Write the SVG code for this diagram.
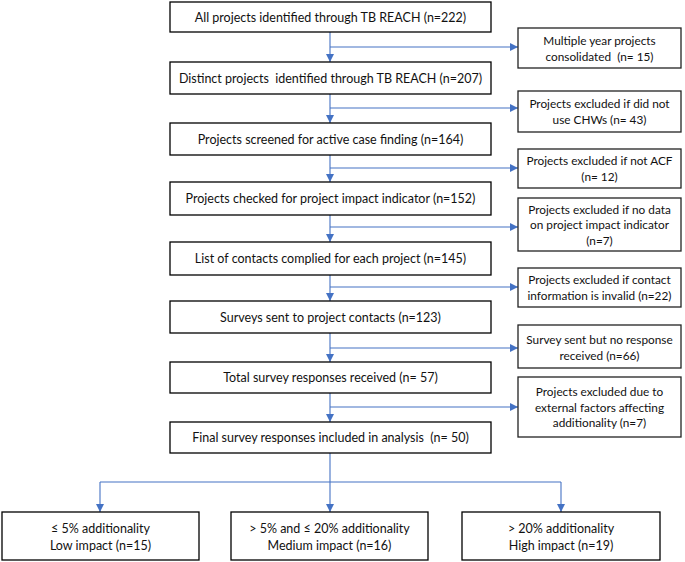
<svg xmlns="http://www.w3.org/2000/svg" width="685" height="562" viewBox="0 0 685 562">
<style>
.box{fill:#fff;stroke:#000;stroke-width:1.3}
.sbox{fill:#fff;stroke:#222;stroke-width:1.3}
.t{font-family:Lato,"Liberation Sans",sans-serif;font-size:12.5px;fill:#111;text-anchor:middle;dominant-baseline:central;white-space:pre}
.s{font-size:11.8px}
.c{fill:none;stroke:#4472C4;stroke-width:1.1}
</style>
<defs>
<marker id="ah" viewBox="0 0 8 8" refX="8" refY="4" markerWidth="8" markerHeight="8" markerUnits="userSpaceOnUse" orient="auto">
<path d="M0,0 L8,4 L0,8 Z" fill="#4472C4"/>
</marker>
</defs>
<g id="connectors">
<path class="c" d="M330,32 V62" marker-end="url(#ah)"/>
<path class="c" d="M330,47 H518" marker-end="url(#ah)"/>
<path class="c" d="M330,94 V123" marker-end="url(#ah)"/>
<path class="c" d="M330,108 H518" marker-end="url(#ah)"/>
<path class="c" d="M330,155 V182" marker-end="url(#ah)"/>
<path class="c" d="M330,168 H518" marker-end="url(#ah)"/>
<path class="c" d="M330,215 V242" marker-end="url(#ah)"/>
<path class="c" d="M330,227 H518" marker-end="url(#ah)"/>
<path class="c" d="M330,275 V301" marker-end="url(#ah)"/>
<path class="c" d="M330,287 H518" marker-end="url(#ah)"/>
<path class="c" d="M330,333 V362" marker-end="url(#ah)"/>
<path class="c" d="M330,348 H518" marker-end="url(#ah)"/>
<path class="c" d="M330,393 V422" marker-end="url(#ah)"/>
<path class="c" d="M330,407 H518" marker-end="url(#ah)"/>
<path class="c" d="M330,453 V512" marker-end="url(#ah)"/>
<path class="c" d="M100,482 H561"/>
<path class="c" d="M100,482 V512" marker-end="url(#ah)"/>
<path class="c" d="M561,482 V512" marker-end="url(#ah)"/>
</g>
<g id="n1"><rect class="box" x="170" y="2" width="321" height="30"/><text class="t" x="330.5" y="17">All projects identified through TB REACH (n=222)</text></g>
<g id="n2"><rect class="box" x="170" y="62" width="321" height="32"/><text class="t" x="330.5" y="78">Distinct projects  identified through TB REACH (n=207)</text></g>
<g id="n3"><rect class="box" x="170" y="123" width="321" height="32"/><text class="t" x="330.5" y="139">Projects screened for active case finding (n=164)</text></g>
<g id="n4"><rect class="box" x="170" y="182" width="321" height="33"/><text class="t" x="330.5" y="198.5">Projects checked for project impact indicator (n=152)</text></g>
<g id="n5"><rect class="box" x="170" y="242" width="321" height="33"/><text class="t" x="330.5" y="258.5">List of contacts complied for each project (n=145)</text></g>
<g id="n6"><rect class="box" x="170" y="301" width="321" height="32"/><text class="t" x="330.5" y="317">Surveys sent to project contacts (n=123)</text></g>
<g id="n7"><rect class="box" x="170" y="362" width="321" height="31"/><text class="t" x="330.5" y="377.5">Total survey responses received (n= 57)</text></g>
<g id="n8"><rect class="box" x="170" y="422" width="321" height="31"/><text class="t" x="330.5" y="437.5">Final survey responses included in analysis  (n= 50)</text></g>
<g id="s1"><rect class="sbox" x="518" y="28" width="163" height="40"/><text class="t s" x="599.5" y="40">Multiple year projects</text><text class="t s" x="599.5" y="56">consolidated  (n= 15)</text></g>
<g id="s2"><rect class="sbox" x="518" y="91" width="163" height="41"/><text class="t s" x="599.5" y="103.5">Projects excluded if did not</text><text class="t s" x="599.5" y="119.5">use CHWs (n= 43)</text></g>
<g id="s3"><rect class="sbox" x="518" y="149" width="163" height="39"/><text class="t s" x="599.5" y="160.5">Projects excluded if not ACF</text><text class="t s" x="599.5" y="176.5">(n= 12)</text></g>
<g id="s4"><rect class="sbox" x="518" y="198" width="163" height="53"/><text class="t s" x="599.5" y="209">Projects excluded if no data</text><text class="t s" x="599.5" y="224.5">on project impact indicator</text><text class="t s" x="599.5" y="240">(n=7)</text></g>
<g id="s5"><rect class="sbox" x="518" y="268" width="163" height="39"/><text class="t s" x="599.5" y="279.5">Projects excluded if contact</text><text class="t s" x="599.5" y="295.5">information is invalid (n=22)</text></g>
<g id="s6"><rect class="sbox" x="518" y="325" width="163" height="43"/><text class="t s" x="599.5" y="339">Survey sent but no response</text><text class="t s" x="599.5" y="355">received (n=66)</text></g>
<g id="s7"><rect class="sbox" x="518" y="377" width="163" height="60"/><text class="t s" x="599.5" y="391.5">Projects excluded due to</text><text class="t s" x="599.5" y="407">external factors affecting</text><text class="t s" x="599.5" y="422.5">additionality (n=7)</text></g>
<g id="b1"><rect class="box" x="2" y="512" width="197" height="48"/><text class="t" x="100.5" y="528">≤ 5% additionality</text><text class="t" x="100.5" y="545">Low impact (n=15)</text></g>
<g id="b2"><rect class="box" x="231" y="512" width="197" height="48"/><text class="t" x="329.5" y="528">&gt; 5% and ≤ 20% additionality</text><text class="t" x="329.5" y="545">Medium impact (n=16)</text></g>
<g id="b3"><rect class="box" x="462" y="512" width="198" height="48"/><text class="t" x="561" y="528">&gt; 20% additionality</text><text class="t" x="561" y="545">High impact (n=19)</text></g>
</svg>
